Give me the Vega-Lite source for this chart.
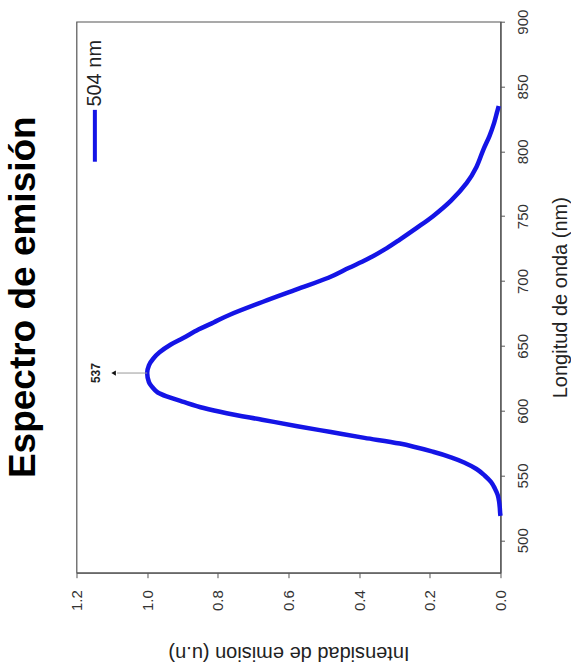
{
  "$schema": "https://vega.github.io/schema/vega-lite/v6.json",
  "width": 424,
  "height": 551,
  "autosize": {"type": "none"},
  "padding": {"left": 76.5, "top": 21.7, "right": 70.3, "bottom": 92.3},
  "background": "white",
  "config": {"view": {"stroke": "#555", "strokeWidth": 1.2}, "font": "Liberation Sans"},
  "title": {"text": "Espectro de emisión", "orient": "left", "anchor": "middle", "fontSize": 37, "fontWeight": "bold", "font": "Liberation Sans", "color": "#000", "offset": 26},
  "datasets": {
    "curve": [
      {"wl": 518.8, "int": 0.0}, {"wl": 521, "int": 0.001}, {"wl": 525, "int": 0.002}, {"wl": 530, "int": 0.004},
      {"wl": 535, "int": 0.008}, {"wl": 540, "int": 0.016}, {"wl": 545, "int": 0.027}, {"wl": 550, "int": 0.045},
      {"wl": 555, "int": 0.068}, {"wl": 560, "int": 0.103}, {"wl": 564, "int": 0.14}, {"wl": 568.3, "int": 0.191},
      {"wl": 574.6, "int": 0.285}, {"wl": 579, "int": 0.385}, {"wl": 583.5, "int": 0.48}, {"wl": 588, "int": 0.575},
      {"wl": 593, "int": 0.675}, {"wl": 598, "int": 0.775}, {"wl": 602, "int": 0.84}, {"wl": 607, "int": 0.9},
      {"wl": 611, "int": 0.945}, {"wl": 614, "int": 0.97}, {"wl": 618, "int": 0.985}, {"wl": 622, "int": 0.995},
      {"wl": 629, "int": 1.0}, {"wl": 635, "int": 0.995}, {"wl": 640, "int": 0.983}, {"wl": 645, "int": 0.965},
      {"wl": 651, "int": 0.933}, {"wl": 656, "int": 0.898}, {"wl": 662.5, "int": 0.855}, {"wl": 668, "int": 0.812},
      {"wl": 674, "int": 0.766}, {"wl": 684, "int": 0.672}, {"wl": 693.5, "int": 0.577}, {"wl": 702.5, "int": 0.487},
      {"wl": 710, "int": 0.43}, {"wl": 716.5, "int": 0.379}, {"wl": 724, "int": 0.33}, {"wl": 732, "int": 0.285},
      {"wl": 741, "int": 0.237}, {"wl": 750, "int": 0.191}, {"wl": 762, "int": 0.14}, {"wl": 775.5, "int": 0.096},
      {"wl": 788, "int": 0.068}, {"wl": 801, "int": 0.049}, {"wl": 812, "int": 0.031}, {"wl": 822, "int": 0.018},
      {"wl": 830, "int": 0.01}, {"wl": 835, "int": 0.005}
    ],
    "one": [{}]
  },
  "layer": [
    {
      "data": {"name": "curve"},
      "mark": {"type": "line", "color": "#1414e6", "strokeWidth": 4.5, "interpolate": "cardinal"},
      "encoding": {
        "x": {"field": "int", "type": "quantitative",
          "scale": {"domain": [0, 1.2], "reverse": true, "nice": false, "zero": false},
          "axis": {"orient": "bottom", "values": [0, 0.1, 0.2, 0.3, 0.4, 0.5, 0.6, 0.7, 0.8, 0.9, 1.0, 1.1, 1.2],
            "labelExpr": "round(datum.value*10)%2==0 ? format(datum.value,'.1f') : ''",
            "labelAngle": 270, "labelAlign": "right", "labelBaseline": "middle", "labelFontSize": 15, "labelPadding": 12,
            "labelColor": "#333", "labelFont": "Liberation Sans",
            "tickSize": {"condition": {"test": "round(datum.value*10)%2==1", "value": 3}, "value": 5},
            "tickColor": "#555", "domainColor": "#555", "domainWidth": 1.2, "grid": false,
            "title": "Intensidad de emision (u.n)", "titleAngle": 180, "titleBaseline": "bottom", "titleFontSize": 20,
            "titleFontWeight": "normal", "titlePadding": 32, "titleColor": "#222", "titleFont": "Liberation Sans"}},
        "y": {"field": "wl", "type": "quantitative",
          "scale": {"domain": [475, 900], "nice": false, "zero": false},
          "axis": {"orient": "right", "values": [500, 525, 550, 575, 600, 625, 650, 675, 700, 725, 750, 775, 800, 825, 850, 875, 900],
            "labelExpr": "datum.value % 50 == 0 ? datum.label : ''",
            "labelAngle": 270, "labelAlign": "center", "labelBaseline": "top", "labelFontSize": 15, "labelPadding": 11,
            "labelColor": "#333", "labelFont": "Liberation Sans",
            "tickSize": {"condition": {"test": "datum.value % 50 != 0", "value": 3}, "value": 4},
            "tickColor": "#555", "domainColor": "#555", "domainWidth": 1.2, "grid": false,
            "title": "Longitud de onda (nm)", "titleAngle": 270, "titleBaseline": "top", "titleFontSize": 20,
            "titleFontWeight": "normal", "titlePadding": 20, "titleColor": "#222", "titleFont": "Liberation Sans"}},
        "order": {"field": "wl", "type": "quantitative"}
      }
    },
    {
      "data": {"name": "one"},
      "mark": {"type": "rule", "color": "#999", "strokeWidth": 1},
      "encoding": {
        "x": {"datum": 1.0, "type": "quantitative"},
        "x2": {"datum": 1.085},
        "y": {"datum": 629, "type": "quantitative"}
      }
    },
    {
      "data": {"name": "one"},
      "mark": {"type": "point", "shape": "triangle-left", "filled": true, "color": "#111", "size": 28, "opacity": 1},
      "encoding": {
        "x": {"datum": 1.095, "type": "quantitative"},
        "y": {"datum": 629, "type": "quantitative"}
      }
    },
    {
      "data": {"name": "one"},
      "mark": {"type": "text", "text": "537", "angle": 270, "align": "center", "baseline": "middle", "fontSize": 12, "fontWeight": "bold", "color": "#222", "font": "Liberation Sans"},
      "encoding": {
        "x": {"datum": 1.144, "type": "quantitative"},
        "y": {"datum": 629, "type": "quantitative"}
      }
    },
    {
      "data": {"name": "one"},
      "mark": {"type": "rule", "color": "#1414e6", "strokeWidth": 4},
      "encoding": {
        "x": {"datum": 1.148, "type": "quantitative"},
        "y": {"datum": 792, "type": "quantitative"},
        "y2": {"datum": 832}
      }
    },
    {
      "data": {"name": "one"},
      "mark": {"type": "text", "text": "504 nm", "angle": 270, "align": "left", "baseline": "middle", "fontSize": 20, "color": "#222", "font": "Liberation Sans"},
      "encoding": {
        "x": {"datum": 1.148, "type": "quantitative"},
        "y": {"datum": 834.5, "type": "quantitative"}
      }
    }
  ]
}
